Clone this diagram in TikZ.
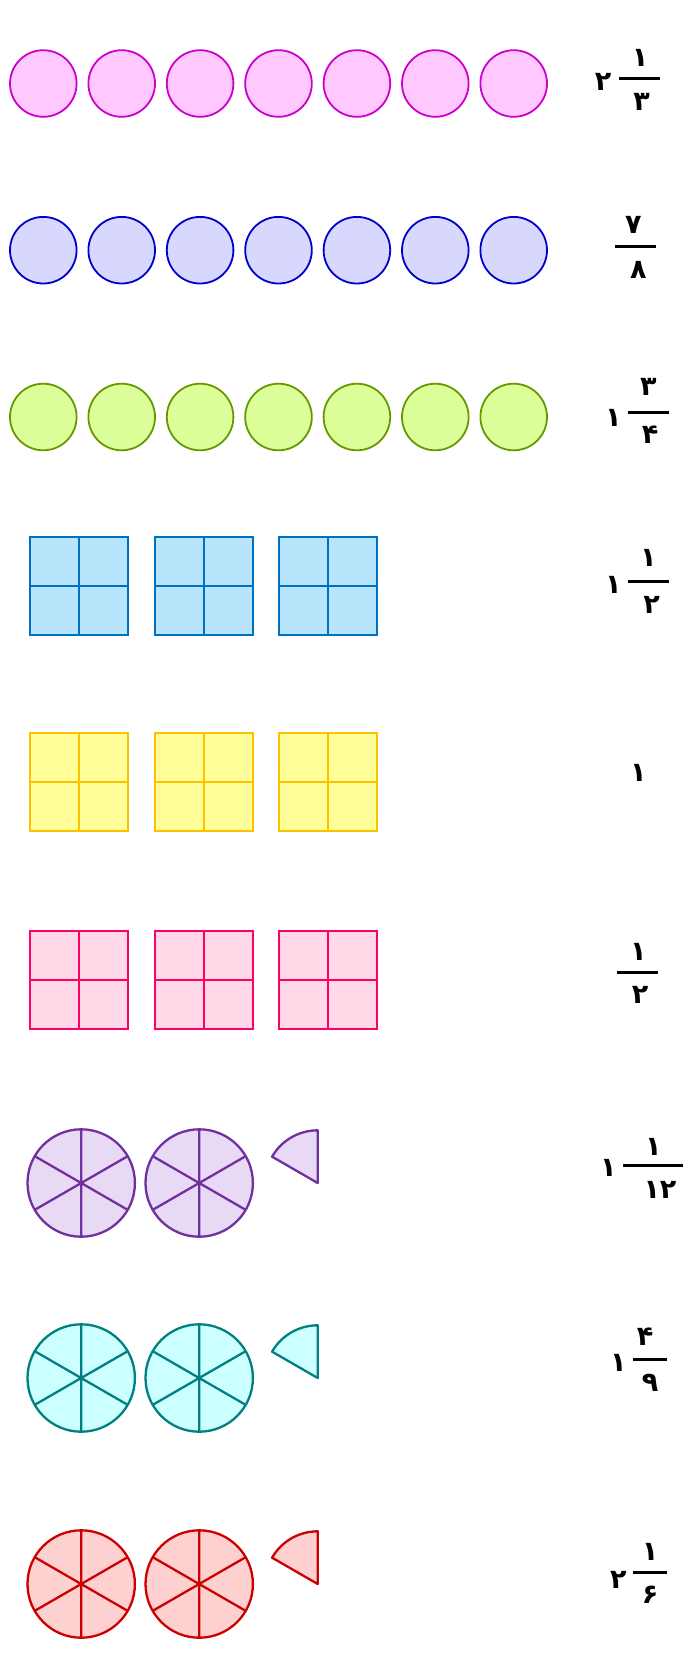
\documentclass[tikz,border=0pt]{standalone}
\usepackage{fontspec}
\newfontfamily\fa[Script=Arabic]{DejaVu Sans}
\definecolor{pkF}{HTML}{FFC8FF}\definecolor{pkD}{HTML}{CC00CC}
\definecolor{blF}{HTML}{D8D8FF}\definecolor{blD}{HTML}{0000CC}
\definecolor{grF}{HTML}{DDFF99}\definecolor{grD}{HTML}{669900}
\definecolor{cyF}{HTML}{B8E4FC}\definecolor{cyD}{HTML}{0070C0}
\definecolor{yeF}{HTML}{FFFF99}\definecolor{yeD}{HTML}{FFC000}
\definecolor{roF}{HTML}{FFD9E8}\definecolor{roD}{HTML}{FF0066}
\definecolor{puF}{HTML}{E8DAF4}\definecolor{puD}{HTML}{7030A0}
\definecolor{tlF}{HTML}{CCFFFF}\definecolor{tlD}{HTML}{008080}
\definecolor{rdF}{HTML}{FFD0D0}\definecolor{rdD}{HTML}{CC0000}
\tikzset{
  dot/.style={circle,draw=#1D,fill=#1F,line width=1.8pt,minimum size=66.6pt,inner sep=0pt,outer sep=0pt},
  sq/.style={rectangle,draw=#1D,fill=#1F,line width=1.8pt,minimum size=98pt,inner sep=0pt,outer sep=0pt},
  pie/.style={circle,draw=#1D,fill=#1F,line width=2.3pt,minimum size=107.4pt,inner sep=0pt,outer sep=0pt},
  dig/.style={font=\fa\bfseries\fontsize{27}{30}\selectfont,inner sep=0pt},
  bar/.style={line width=3pt}
}
\newcommand{\dotrow}[3]{%
  \foreach \i [evaluate=\i as \xx using 43.3+78.4*(\i-1)] in {1,...,7}
    \node[dot=#1] (#2\i) at (\xx,-#3) {};}
\newcommand{\sqrow}[3]{%
  \foreach \i/\xx in {1/79,2/204,3/328}{
    \node[sq=#1] (#2\i) at (\xx,-#3) {};
    \draw[draw=#1D,line width=1.8pt] (#2\i.north) -- (#2\i.south) (#2\i.west) -- (#2\i.east);}}
\newcommand{\pierow}[3]{%
  \foreach \i/\xx in {1/81.2,2/199.2}{
    \node[pie=#1] (#2\i) at (\xx,-#3) {};
    \draw[draw=#1D,line width=2.3pt] (#2\i.90) -- (#2\i.270) (#2\i.30) -- (#2\i.210) (#2\i.150) -- (#2\i.330);}
  \coordinate (#2s) at (317.7,-#3);
  \draw[draw=#1D,fill=#1F,line width=2.3pt,line join=round] (#2s) -- ++(90:52.7) arc (90:150:52.7) -- cycle;}
\begin{document}
\begin{tikzpicture}[x=1pt,y=1pt]
\useasboundingbox (0,0) rectangle (683,-1655);
\dotrow{pk}{a}{83.5}
\dotrow{bl}{b}{250.2}
\dotrow{gr}{c}{417}
\sqrow{cy}{d}{586}
\sqrow{ye}{e}{782}
\sqrow{ro}{f}{980}
\pierow{pu}{g}{1183}
\pierow{tl}{h}{1378}
\pierow{rd}{k}{1584}
% fractions
% row 1
\node[dig] (a-w) at (603,-81.7) {۲};
\coordinate (a-bl) at (619.3,-78.3); \coordinate (a-br) at (660,-78.3);
\draw[bar] (a-bl) -- (a-br);
\node[dig] (a-n) at (640,-58) {۱};
\node[dig] (a-d) at (641.7,-101.7) {۳};
% row 2
\coordinate (b-bl) at (615,-246); \coordinate (b-br) at (656,-246);
\draw[bar] (b-bl) -- (b-br);
\node[dig] (b-n) at (633.3,-225) {۷};
\node[dig] (b-d) at (638.3,-270) {۸};
% row 3
\node[dig] (c-w) at (613.3,-418.3) {۱};
\coordinate (c-bl) at (627.7,-412.3); \coordinate (c-br) at (669,-412.3);
\draw[bar] (c-bl) -- (c-br);
\node[dig] (c-n) at (648.3,-386.7) {۳};
\node[dig] (c-d) at (650,-435) {۴};
% row 4
\node[dig] (d-w) at (613.3,-585) {۱};
\coordinate (d-bl) at (627.7,-581.7); \coordinate (d-br) at (669,-581.7);
\draw[bar] (d-bl) -- (d-br);
\node[dig] (d-n) at (648.3,-558.3) {۱};
\node[dig] (d-d) at (651.7,-605) {۲};
% row 5
\node[dig] (e-w) at (638.3,-773.3) {۱};
% row 6
\coordinate (f-bl) at (616.7,-972.3); \coordinate (f-br) at (657.7,-972.3);
\draw[bar] (f-bl) -- (f-br);
\node[dig] (f-n) at (638.3,-951.7) {۱};
\node[dig] (f-d) at (640,-995) {۲};
% row 7
\node[dig] (g-w) at (608.3,-1168.3) {۱};
\coordinate (g-bl) at (623.3,-1165); \coordinate (g-br) at (682.7,-1165);
\draw[bar] (g-bl) -- (g-br);
\node[dig] (g-n) at (653.3,-1146.7) {۱};
\node[dig] (g-d) at (660,-1190) {۱۲};
% row 8
\node[dig] (h-w) at (618.3,-1363.3) {۱};
\coordinate (h-bl) at (633.3,-1359.3); \coordinate (h-br) at (666.7,-1359.3);
\draw[bar] (h-bl) -- (h-br);
\node[dig] (h-n) at (645,-1336.7) {۴};
\node[dig] (h-d) at (650,-1383.3) {۹};
% row 9
\node[dig] (k-w) at (618.3,-1580) {۲};
\coordinate (k-bl) at (633.3,-1572.3); \coordinate (k-br) at (666.7,-1572.3);
\draw[bar] (k-bl) -- (k-br);
\node[dig] (k-n) at (650,-1551.7) {۱};
\node[dig] (k-d) at (650,-1595) {۶};
\end{tikzpicture}
\end{document}
